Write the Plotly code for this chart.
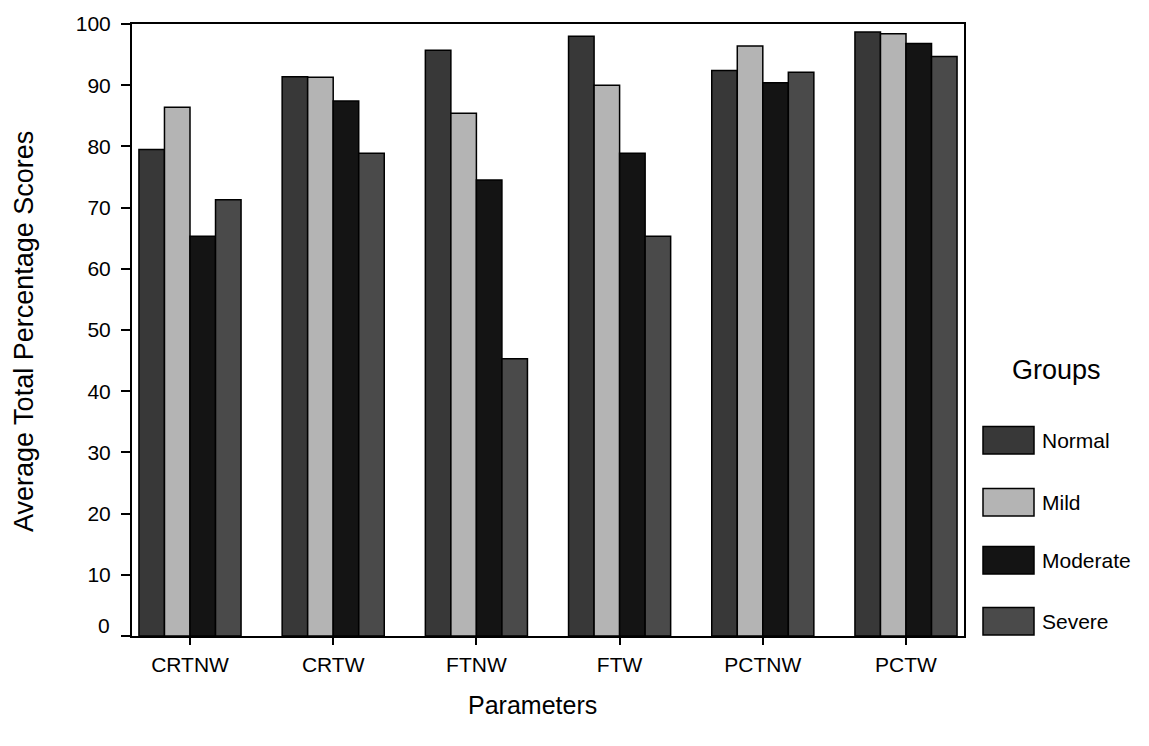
import plotly.graph_objects as go

categories = ["CRTNW", "CRTW", "FTNW", "FTW", "PCTNW", "PCTW"]
normal = [79.5, 91.4, 95.7, 98.0, 92.4, 98.7]
mild = [86.4, 91.3, 85.4, 90.0, 96.4, 98.4]
moderate = [65.3, 87.4, 74.5, 78.9, 90.4, 96.8]
severe = [71.3, 78.9, 45.3, 65.3, 92.1, 94.7]

y_ticks = [0, 10, 20, 30, 40, 50, 60, 70, 80, 90, 100]

series_names = ["Normal", "Mild", "Moderate", "Severe"]
series_values = [normal, mild, moderate, severe]
series_colors = ["#383838", "#b4b4b4", "#141414", "#4a4a4a"]

FONT = "Liberation Sans, Arial, sans-serif"

fig = go.Figure()
for name, vals, col in zip(series_names, series_values, series_colors):
    fig.add_trace(go.Bar(
        x=categories, y=vals, name=name,
        marker=dict(color=col, line=dict(color="black", width=1.5)),
        showlegend=False,
    ))

L, R, T, B = 132, 185, 14, 110
W, H = 1149, 746
pw = W - L - R
ph = H - T - B

def px(x):
    return (x - L) / pw

def py(y):
    return (H - B - y) / ph

shapes = []
annotations = []
# custom legend
annotations.append(dict(x=px(1056), y=py(366), xref="paper", yref="paper",
                        text="Groups", showarrow=False, xanchor="center", yanchor="middle",
                        font=dict(family=FONT, size=27, color="black")))
legend_y = [437, 500, 559, 621]
for name, col, yc in zip(series_names, series_colors, legend_y):
    shapes.append(dict(type="rect", xref="paper", yref="paper",
                       x0=px(983), x1=px(1034), y0=py(yc - 14), y1=py(yc + 14),
                       fillcolor=col, line=dict(color="black", width=1.5)))
    annotations.append(dict(x=px(1040), y=py(yc), xref="paper", yref="paper",
                            text=name, showarrow=False, xanchor="left", yanchor="middle",
                            font=dict(family=FONT, size=21, color="black")))
# axis titles
annotations.append(dict(x=px(532), y=py(706), xref="paper", yref="paper",
                        text="Parameters", showarrow=False, xanchor="center", yanchor="middle",
                        font=dict(family=FONT, size=25, color="black")))
annotations.append(dict(x=px(24), y=py(327), xref="paper", yref="paper",
                        text="Average Total Percentage Scores", showarrow=False, textangle=-90,
                        xanchor="center", yanchor="middle",
                        font=dict(family=FONT, size=27, color="black")))
# the "0" label sits slightly above the baseline in the reference
annotations.append(dict(x=px(112), y=py(625), xref="paper", yref="paper",
                        text=str(y_ticks[0]), showarrow=False, xanchor="right", yanchor="middle",
                        font=dict(family=FONT, size=21, color="black")))

fig.update_layout(
    width=W, height=H,
    margin=dict(l=L, r=R, t=T, b=B),
    paper_bgcolor="white", plot_bgcolor="white",
    barmode="group", bargap=0.287, bargroupgap=0,
    font=dict(family=FONT, size=21, color="black"),
    shapes=shapes, annotations=annotations,
)
fig.update_xaxes(range=[-0.405, 5.405], showline=True, mirror=True, linecolor="black",
                 linewidth=2, ticks="outside", ticklen=7, tickwidth=2, tickcolor="black",
                 showgrid=False, tickfont=dict(family=FONT, size=21, color="black"),
                 ticklabelstandoff=2)
fig.update_yaxes(range=[0, 100], tickmode="array", tickvals=y_ticks,
                 ticktext=[""] + [str(v) for v in y_ticks[1:]],
                 showline=True, mirror=True, linecolor="black",
                 linewidth=2, ticks="outside", ticklen=9, tickwidth=2, tickcolor="black",
                 showgrid=False, zeroline=False, tickfont=dict(family=FONT, size=21, color="black"),
                 ticklabelstandoff=6)

fig.write_html("out.html", config={"displayModeBar": False},
               post_script="document.body.style.margin='0';document.body.style.overflow='hidden';")
